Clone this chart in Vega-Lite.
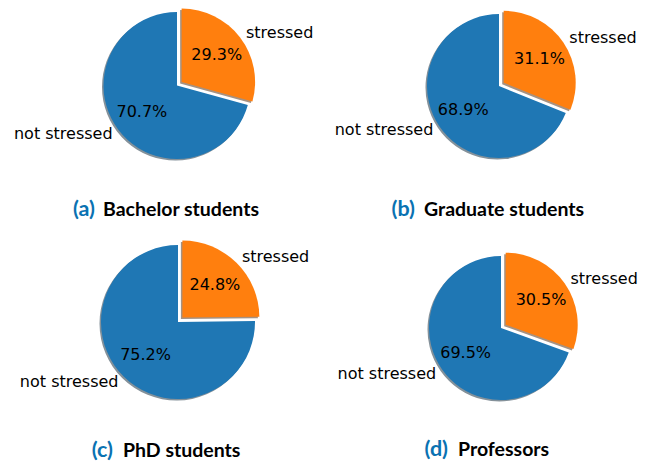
{
  "$schema": "https://vega.github.io/schema/vega-lite/v6.json",
  "padding": 0,
  "background": "white",
  "config": {"view": {"stroke": null}},
  "datasets": {
    "pies": [
      {"group": "a", "category": "stressed", "share": 0.293},
      {"group": "a", "category": "not stressed", "share": 0.707},
      {"group": "b", "category": "stressed", "share": 0.311},
      {"group": "b", "category": "not stressed", "share": 0.689},
      {"group": "c", "category": "stressed", "share": 0.248},
      {"group": "c", "category": "not stressed", "share": 0.752},
      {"group": "d", "category": "stressed", "share": 0.305},
      {"group": "d", "category": "not stressed", "share": 0.695}
    ],
    "captions": [
      {"group": "a", "letter": "(a)", "title": "Bachelor students"},
      {"group": "b", "letter": "(b)", "title": "Graduate students"},
      {"group": "c", "letter": "(c)", "title": "PhD students"},
      {"group": "d", "letter": "(d)", "title": "Professors"}
    ]
  },
  "bounds": "flush",
  "align": "each",
  "columns": 2,
  "spacing": {"row": 20, "column": 0},
  "concat": [
    {
      "width": 354, "height": 171,
      "layer": [
        {
          "data": {"name": "pies"},
          "transform": [{"filter": "datum.group == 'a'"}],
          "encoding": {
            "theta": {"field": "share", "type": "quantitative", "stack": true},
            "order": {"field": "category", "sort": "descending"},
            "detail": {"field": "category"}
          },
          "layer": [
            {"mark": {"type": "arc", "outerRadius": 73.5, "fill": "#84919a", "xOffset": -1.5, "yOffset": 1.5},
             "encoding": {"opacity": {"condition": {"test": "datum.category == 'not stressed'", "value": 1}, "value": 0}}},
            {"mark": {"type": "arc", "outerRadius": 73.5, "fill": "#a69282", "xOffset": 3.1, "yOffset": -2},
             "encoding": {"opacity": {"condition": {"test": "datum.category == 'stressed'", "value": 1}, "value": 0}}},
            {"mark": {"type": "arc", "outerRadius": 73.5, "fill": "#1f77b4"},
             "encoding": {"opacity": {"condition": {"test": "datum.category == 'not stressed'", "value": 1}, "value": 0}}},
            {"mark": {"type": "arc", "outerRadius": 73.5, "fill": "#ff7f0e", "xOffset": 4.6, "yOffset": -3.5},
             "encoding": {"opacity": {"condition": {"test": "datum.category == 'stressed'", "value": 1}, "value": 0}}},
            {"mark": {"type": "text", "radius": 44.1, "font": "DejaVu Sans", "fontSize": 16, "align": "center", "baseline": "middle", "fill": "black"},
             "encoding": {"text": {"field": "share", "type": "quantitative", "format": ".1%"}, "opacity": {"condition": {"test": "datum.category == 'not stressed'", "value": 1}, "value": 0}}},
            {"mark": {"type": "text", "radius": 44.1, "font": "DejaVu Sans", "fontSize": 16, "align": "center", "baseline": "middle", "fill": "black", "dx": 4.6, "dy": -3.5},
             "encoding": {"text": {"field": "share", "type": "quantitative", "format": ".1%"}, "opacity": {"condition": {"test": "datum.category == 'stressed'", "value": 1}, "value": 0}}},
            {"mark": {"type": "text", "radius": 80.9, "font": "DejaVu Sans", "fontSize": 16, "align": "right", "baseline": "middle", "fill": "black"},
             "encoding": {"text": {"field": "category"}, "opacity": {"condition": {"test": "datum.category == 'not stressed'", "value": 1}, "value": 0}}},
            {"mark": {"type": "text", "radius": 80.9, "font": "DejaVu Sans", "fontSize": 16, "align": "left", "baseline": "middle", "fill": "black", "dx": 4.6, "dy": -3.5},
             "encoding": {"text": {"field": "category"}, "opacity": {"condition": {"test": "datum.category == 'stressed'", "value": 1}, "value": 0}}}
          ]
        },
        {
          "data": {"name": "captions"},
          "transform": [{"filter": "datum.group == 'a'"}],
          "layer": [
            {"mark": {"type": "text", "font": "Lato", "fontWeight": "bold", "fontSize": 21.5, "fill": "#0a72b2", "align": "right", "baseline": "alphabetic", "dx": -82, "dy": 130.5},
             "encoding": {"text": {"field": "letter"}}},
            {"mark": {"type": "text", "font": "Lato", "fontWeight": "bold", "fontSize": 19.5, "fill": "black", "align": "left", "baseline": "alphabetic", "dx": -74, "dy": 130.5},
             "encoding": {"text": {"field": "title"}}}
          ]
        }
      ]
    },
    {
      "width": 286, "height": 172,
      "layer": [
        {
          "data": {"name": "pies"},
          "transform": [{"filter": "datum.group == 'b'"}],
          "encoding": {
            "theta": {"field": "share", "type": "quantitative", "stack": true},
            "order": {"field": "category", "sort": "descending"},
            "detail": {"field": "category"}
          },
          "layer": [
            {"mark": {"type": "arc", "outerRadius": 72, "fill": "#84919a", "xOffset": -1.5, "yOffset": 1.5},
             "encoding": {"opacity": {"condition": {"test": "datum.category == 'not stressed'", "value": 1}, "value": 0}}},
            {"mark": {"type": "arc", "outerRadius": 72, "fill": "#a69282", "xOffset": 3.2, "yOffset": -1.7},
             "encoding": {"opacity": {"condition": {"test": "datum.category == 'stressed'", "value": 1}, "value": 0}}},
            {"mark": {"type": "arc", "outerRadius": 72, "fill": "#1f77b4"},
             "encoding": {"opacity": {"condition": {"test": "datum.category == 'not stressed'", "value": 1}, "value": 0}}},
            {"mark": {"type": "arc", "outerRadius": 72, "fill": "#ff7f0e", "xOffset": 4.7, "yOffset": -3.2},
             "encoding": {"opacity": {"condition": {"test": "datum.category == 'stressed'", "value": 1}, "value": 0}}},
            {"mark": {"type": "text", "radius": 43.2, "font": "DejaVu Sans", "fontSize": 16, "align": "center", "baseline": "middle", "fill": "black"},
             "encoding": {"text": {"field": "share", "type": "quantitative", "format": ".1%"}, "opacity": {"condition": {"test": "datum.category == 'not stressed'", "value": 1}, "value": 0}}},
            {"mark": {"type": "text", "radius": 43.2, "font": "DejaVu Sans", "fontSize": 16, "align": "center", "baseline": "middle", "fill": "black", "dx": 4.7, "dy": -3.2},
             "encoding": {"text": {"field": "share", "type": "quantitative", "format": ".1%"}, "opacity": {"condition": {"test": "datum.category == 'stressed'", "value": 1}, "value": 0}}},
            {"mark": {"type": "text", "radius": 79.2, "font": "DejaVu Sans", "fontSize": 16, "align": "right", "baseline": "middle", "fill": "black"},
             "encoding": {"text": {"field": "category"}, "opacity": {"condition": {"test": "datum.category == 'not stressed'", "value": 1}, "value": 0}}},
            {"mark": {"type": "text", "radius": 79.2, "font": "DejaVu Sans", "fontSize": 16, "align": "left", "baseline": "middle", "fill": "black", "dx": 4.7, "dy": -3.2},
             "encoding": {"text": {"field": "category"}, "opacity": {"condition": {"test": "datum.category == 'stressed'", "value": 1}, "value": 0}}}
          ]
        },
        {
          "data": {"name": "captions"},
          "transform": [{"filter": "datum.group == 'b'"}],
          "layer": [
            {"mark": {"type": "text", "font": "Lato", "fontWeight": "bold", "fontSize": 21.5, "fill": "#0a72b2", "align": "right", "baseline": "alphabetic", "dx": -84, "dy": 130},
             "encoding": {"text": {"field": "letter"}}},
            {"mark": {"type": "text", "font": "Lato", "fontWeight": "bold", "fontSize": 19.5, "fill": "black", "align": "left", "baseline": "alphabetic", "dx": -75, "dy": 130},
             "encoding": {"text": {"field": "title"}}}
          ]
        }
      ]
    },
    {
      "width": 356, "height": 260,
      "layer": [
        {
          "data": {"name": "pies"},
          "transform": [{"filter": "datum.group == 'c'"}],
          "encoding": {
            "theta": {"field": "share", "type": "quantitative", "stack": true},
            "order": {"field": "category", "sort": "descending"},
            "detail": {"field": "category"}
          },
          "layer": [
            {"mark": {"type": "arc", "outerRadius": 77, "fill": "#84919a", "xOffset": -1.5, "yOffset": 1.5},
             "encoding": {"opacity": {"condition": {"test": "datum.category == 'not stressed'", "value": 1}, "value": 0}}},
            {"mark": {"type": "arc", "outerRadius": 77, "fill": "#a69282", "xOffset": 2.9, "yOffset": -2.9},
             "encoding": {"opacity": {"condition": {"test": "datum.category == 'stressed'", "value": 1}, "value": 0}}},
            {"mark": {"type": "arc", "outerRadius": 77, "fill": "#1f77b4"},
             "encoding": {"opacity": {"condition": {"test": "datum.category == 'not stressed'", "value": 1}, "value": 0}}},
            {"mark": {"type": "arc", "outerRadius": 77, "fill": "#ff7f0e", "xOffset": 4.4, "yOffset": -4.4},
             "encoding": {"opacity": {"condition": {"test": "datum.category == 'stressed'", "value": 1}, "value": 0}}},
            {"mark": {"type": "text", "radius": 46.2, "font": "DejaVu Sans", "fontSize": 16, "align": "center", "baseline": "middle", "fill": "black"},
             "encoding": {"text": {"field": "share", "type": "quantitative", "format": ".1%"}, "opacity": {"condition": {"test": "datum.category == 'not stressed'", "value": 1}, "value": 0}}},
            {"mark": {"type": "text", "radius": 46.2, "font": "DejaVu Sans", "fontSize": 16, "align": "center", "baseline": "middle", "fill": "black", "dx": 4.4, "dy": -4.4},
             "encoding": {"text": {"field": "share", "type": "quantitative", "format": ".1%"}, "opacity": {"condition": {"test": "datum.category == 'stressed'", "value": 1}, "value": 0}}},
            {"mark": {"type": "text", "radius": 84.7, "font": "DejaVu Sans", "fontSize": 16, "align": "right", "baseline": "middle", "fill": "black"},
             "encoding": {"text": {"field": "category"}, "opacity": {"condition": {"test": "datum.category == 'not stressed'", "value": 1}, "value": 0}}},
            {"mark": {"type": "text", "radius": 84.7, "font": "DejaVu Sans", "fontSize": 16, "align": "left", "baseline": "middle", "fill": "black", "dx": 4.4, "dy": -4.4},
             "encoding": {"text": {"field": "category"}, "opacity": {"condition": {"test": "datum.category == 'stressed'", "value": 1}, "value": 0}}}
          ]
        },
        {
          "data": {"name": "captions"},
          "transform": [{"filter": "datum.group == 'c'"}],
          "layer": [
            {"mark": {"type": "text", "font": "Lato", "fontWeight": "bold", "fontSize": 21.5, "fill": "#0a72b2", "align": "right", "baseline": "alphabetic", "dx": -65, "dy": 135},
             "encoding": {"text": {"field": "letter"}}},
            {"mark": {"type": "text", "font": "Lato", "fontWeight": "bold", "fontSize": 19.5, "fill": "black", "align": "left", "baseline": "alphabetic", "dx": -55, "dy": 135},
             "encoding": {"text": {"field": "title"}}}
          ]
        }
      ]
    },
    {
      "width": 290, "height": 272,
      "layer": [
        {
          "data": {"name": "pies"},
          "transform": [{"filter": "datum.group == 'd'"}],
          "encoding": {
            "theta": {"field": "share", "type": "quantitative", "stack": true},
            "order": {"field": "category", "sort": "descending"},
            "detail": {"field": "category"}
          },
          "layer": [
            {"mark": {"type": "arc", "outerRadius": 72, "fill": "#84919a", "xOffset": -1.5, "yOffset": 1.5},
             "encoding": {"opacity": {"condition": {"test": "datum.category == 'not stressed'", "value": 1}, "value": 0}}},
            {"mark": {"type": "arc", "outerRadius": 72, "fill": "#a69282", "xOffset": 3.2, "yOffset": -1.8},
             "encoding": {"opacity": {"condition": {"test": "datum.category == 'stressed'", "value": 1}, "value": 0}}},
            {"mark": {"type": "arc", "outerRadius": 72, "fill": "#1f77b4"},
             "encoding": {"opacity": {"condition": {"test": "datum.category == 'not stressed'", "value": 1}, "value": 0}}},
            {"mark": {"type": "arc", "outerRadius": 72, "fill": "#ff7f0e", "xOffset": 4.7, "yOffset": -3.3},
             "encoding": {"opacity": {"condition": {"test": "datum.category == 'stressed'", "value": 1}, "value": 0}}},
            {"mark": {"type": "text", "radius": 43.2, "font": "DejaVu Sans", "fontSize": 16, "align": "center", "baseline": "middle", "fill": "black"},
             "encoding": {"text": {"field": "share", "type": "quantitative", "format": ".1%"}, "opacity": {"condition": {"test": "datum.category == 'not stressed'", "value": 1}, "value": 0}}},
            {"mark": {"type": "text", "radius": 43.2, "font": "DejaVu Sans", "fontSize": 16, "align": "center", "baseline": "middle", "fill": "black", "dx": 4.7, "dy": -3.3},
             "encoding": {"text": {"field": "share", "type": "quantitative", "format": ".1%"}, "opacity": {"condition": {"test": "datum.category == 'stressed'", "value": 1}, "value": 0}}},
            {"mark": {"type": "text", "radius": 79.2, "font": "DejaVu Sans", "fontSize": 16, "align": "right", "baseline": "middle", "fill": "black"},
             "encoding": {"text": {"field": "category"}, "opacity": {"condition": {"test": "datum.category == 'not stressed'", "value": 1}, "value": 0}}},
            {"mark": {"type": "text", "radius": 79.2, "font": "DejaVu Sans", "fontSize": 16, "align": "left", "baseline": "middle", "fill": "black", "dx": 4.7, "dy": -3.3},
             "encoding": {"text": {"field": "category"}, "opacity": {"condition": {"test": "datum.category == 'stressed'", "value": 1}, "value": 0}}}
          ]
        },
        {
          "data": {"name": "captions"},
          "transform": [{"filter": "datum.group == 'd'"}],
          "layer": [
            {"mark": {"type": "text", "font": "Lato", "fontWeight": "bold", "fontSize": 21.5, "fill": "#0a72b2", "align": "right", "baseline": "alphabetic", "dx": -53, "dy": 128},
             "encoding": {"text": {"field": "letter"}}},
            {"mark": {"type": "text", "font": "Lato", "fontWeight": "bold", "fontSize": 19.5, "fill": "black", "align": "left", "baseline": "alphabetic", "dx": -43, "dy": 128},
             "encoding": {"text": {"field": "title"}}}
          ]
        }
      ]
    }
  ]
}
